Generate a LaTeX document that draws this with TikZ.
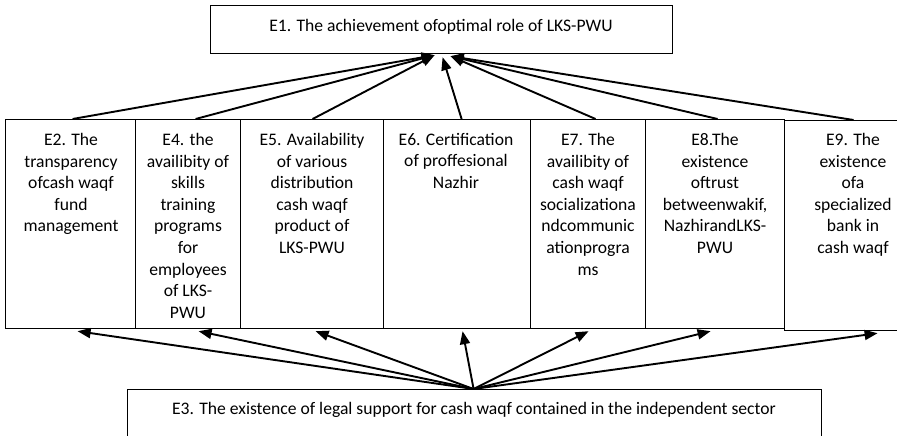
\documentclass[tikz,border=0pt]{standalone}
\usepackage{fontspec}
\setmainfont{Carlito}
\usetikzlibrary{arrows.meta}
\begin{document}
\begin{tikzpicture}[x=1pt,y=-1pt,
  box/.style={draw, line width=1.2pt, inner sep=0pt, anchor=north west},
  txt/.style={inner sep=0pt, align=center, font=\fontsize{17.6}{21.6}\selectfont},
  coltxt/.style={txt, anchor=north},
  arr/.style={line width=1.9pt, -{Triangle[length=13pt,width=10pt]}}]
\useasboundingbox (0,0) rectangle (897,436);
\clip (0,0) rectangle (897,436);
\fill[white] (0,0) rectangle (897,436);
% boxes
\node[box, minimum width=462pt, minimum height=48pt] (e1) at (210,5) {};
\node[box, minimum width=130pt, minimum height=209pt] (e2) at (5,119) {};
\node[box, minimum width=105pt, minimum height=209pt] (e4) at (135,119) {};
\node[box, minimum width=143pt, minimum height=209pt] (e5) at (240,119) {};
\node[box, minimum width=147pt, minimum height=209pt] (e6) at (383,119) {};
\node[box, minimum width=115pt, minimum height=209pt] (e7) at (530,119) {};
\node[box, minimum width=139pt, minimum height=209pt] (e8) at (645,119) {};
\node[box, minimum width=138pt, minimum height=210pt] (e9) at (784,120) {};
\node[box, minimum width=694pt, minimum height=80pt] (e3) at (127,389) {};
% texts
\node[txt] (e1t) at (441,27) {E1. The achievement ofoptimal role of LKS-PWU};
\node[txt] (e3t) at (474,410) {E3. The existence of legal support for cash waqf contained in the independent sector};
\node[coltxt] (e2t) at (71,133) {E2. The\\transparency\\ofcash waqf\\fund\\management};
\node[coltxt] (e4t) at (188,133) {E4. the\\availibity of\\skills\\training\\programs\\for\\employees\\of LKS-\\PWU};
\node[coltxt] (e5t) at (312,133) {E5. Availability\\of various\\distribution\\cash waqf\\product of\\LKS-PWU};
\node[coltxt] (e6t) at (456,133) {E6. Certification\\of proffesional\\Nazhir};
\node[coltxt] (e7t) at (588,133) {E7. The\\availibity of\\cash waqf\\socializationa\\ndcommunic\\ationprogra\\ms};
\node[coltxt] (e8t) at (715,133) {E8.The\\existence\\oftrust\\betweenwakif,\\NazhirandLKS-\\PWU};
\node[coltxt] (e9t) at (853,133) {E9. The\\existence\\ofa\\specialized\\bank in\\cash waqf};
% convergence points
\coordinate (tl) at ([xshift=-7pt,yshift=-1pt]e1.south);
\coordinate (tm) at ([xshift=1pt,yshift=-3pt]e1.south);
\coordinate (tr) at ([xshift=9pt,yshift=-2pt]e1.south);
\coordinate (src) at ([xshift=-1pt]e3.north);
% upward arrows
\draw[arr] ([xshift=2pt]e2.north) -- (tl);
\draw[arr] ([xshift=7.5pt]e4.north) -- (tl);
\draw[arr] ([xshift=0.5pt]e5.north) -- (tl);
\draw[arr] ([xshift=4.5pt]e6.north) -- (tm);
\draw[arr] ([xshift=7.5pt]e7.north) -- (tr);
\draw[arr] ([xshift=2.5pt]e8.north) -- (tr);
\draw[arr] ([xshift=0pt]e9.north) -- (tr);
% arrows from E3
\draw[arr] (src) -- ([xshift=7pt,yshift=-2pt]e2.south);
\draw[arr] (src) -- ([xshift=10.5pt,yshift=-2pt]e4.south);
\draw[arr] (src) -- ([xshift=3.5pt,yshift=-2pt]e5.south);
\draw[arr] (src) -- ([xshift=5.5pt,yshift=-2pt]e6.south);
\draw[arr] (src) -- ([xshift=0.5pt,yshift=-2pt]e7.south);
\draw[arr] (src) -- ([xshift=-4.5pt,yshift=-2pt]e8.south);
\draw[arr] (src) -- ([xshift=24pt,yshift=-2pt]e9.south);
\end{tikzpicture}
\end{document}
